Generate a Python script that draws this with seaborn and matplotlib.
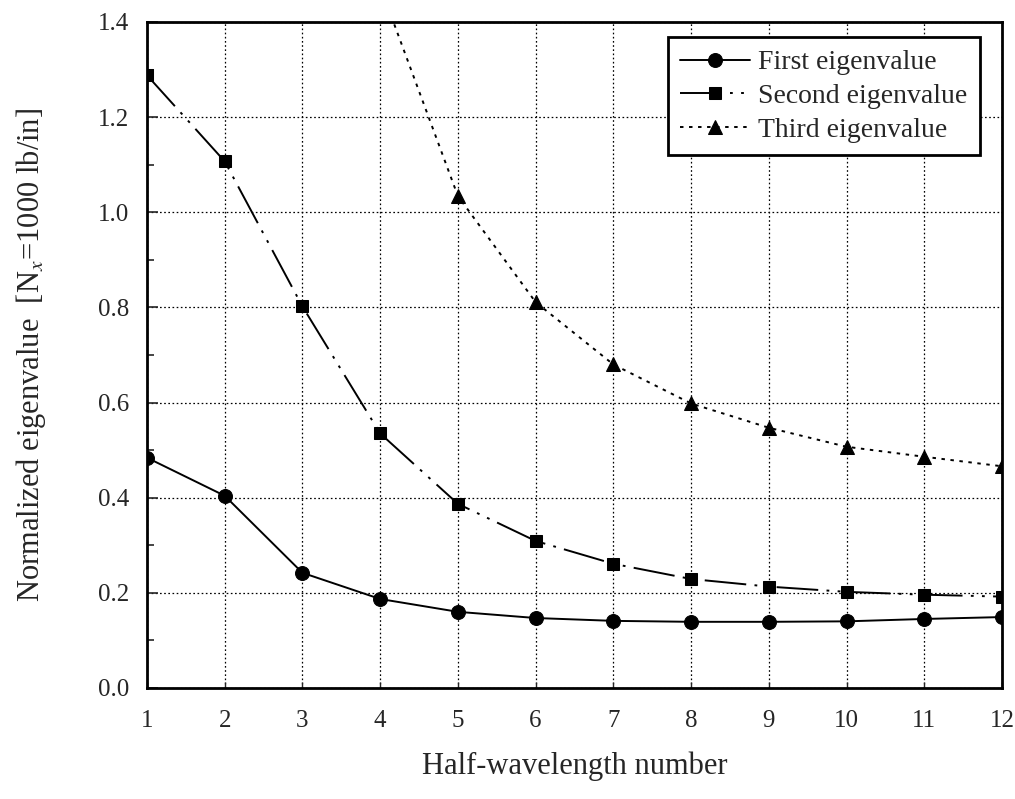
import numpy as np
import pandas as pd
import matplotlib
matplotlib.use("Agg")
import matplotlib.pyplot as plt
from matplotlib.ticker import MultipleLocator
import seaborn as sns

# Half-wavelength numbers and normalized eigenvalues
half_wavelength = [1, 2, 3, 4, 5, 6, 7, 8, 9, 10, 11, 12]
first_eig = [0.484, 0.404, 0.242, 0.187, 0.160, 0.147, 0.141, 0.139, 0.139, 0.140, 0.145, 0.149]
second_eig = [1.288, 1.107, 0.802, 0.535, 0.387, 0.309, 0.261, 0.229, 0.213, 0.202, 0.196, 0.192]
third_eig = [np.nan, np.nan, np.nan, 1.475, 1.034, 0.811, 0.680, 0.598, 0.547, 0.507, 0.486, 0.466]

series_names = ["First eigenvalue", "Second eigenvalue", "Third eigenvalue"]
y_ticks = [0.0, 0.2, 0.4, 0.6, 0.8, 1.0, 1.2, 1.4]

sns.set_style("white")
plt.rcParams["font.family"] = ["Liberation Serif", "DejaVu Serif"]
plt.rcParams["mathtext.fontset"] = "stix"
plt.rcParams["lines.scale_dashes"] = False

fig = plt.figure(figsize=(10.15, 7.99), dpi=100)
ax = fig.add_axes([0.1448, 0.139, 0.8424, 0.8335])

frames = []
for name, vals in zip(series_names, [first_eig, second_eig, third_eig]):
    frames.append(pd.DataFrame({"x": half_wavelength, "y": vals, "series": name}))
df = pd.concat(frames, ignore_index=True)

styles = {
    "First eigenvalue": dict(marker="o", markersize=10, linestyle="-"),
    "Second eigenvalue": dict(marker="s", markersize=9, linestyle=(0, (30, 6, 2, 6, 2, 6))),
    "Third eigenvalue": dict(marker="^", markersize=10, linestyle=(0, (2.5, 4))),
}

for name in series_names:
    sub = df[df["series"] == name].dropna()
    st = styles[name]
    sns.lineplot(data=sub, x="x", y="y", ax=ax, color="black", linewidth=1.4,
                 marker=st["marker"], markersize=st["markersize"],
                 markeredgecolor="black", markerfacecolor="black",
                 linestyle=st["linestyle"], label=name, clip_on=True)

ax.set_xlim(1, 12)
ax.set_ylim(0, 1.4)
ax.set_xticks(half_wavelength)
ax.set_yticks(y_ticks)
ax.set_yticklabels([f"{v:.1f}" for v in y_ticks])
ax.yaxis.set_minor_locator(MultipleLocator(0.1))

ax.grid(True, which="major", color="black", linestyle=(0, (1.2, 1.8)), linewidth=0.9)
ax.set_axisbelow(True)

for sp in ax.spines.values():
    sp.set_visible(True)
    sp.set_color("black")
    sp.set_linewidth(2.0)

ax.tick_params(axis="y", which="major", direction="in", length=8, width=1.2,
               labelsize=18, pad=13, left=True, right=False)
ax.tick_params(axis="y", which="minor", direction="in", length=5, width=1.2,
               left=True, right=False)
ax.tick_params(axis="x", which="major", direction="in", length=4, width=1.0,
               labelsize=18, pad=16, bottom=True)

ax.set_xlabel("Half-wavelength number", fontsize=22, labelpad=14)
ax.set_ylabel(r"Normalized eigenvalue  [N$_x$=1000 lb/in]", fontsize=22, labelpad=36)

leg = ax.legend(loc="upper right", bbox_to_anchor=(0.974, 0.977), borderaxespad=0,
                fontsize=20, frameon=True, fancybox=False, edgecolor="black",
                framealpha=1, handlelength=2.5, handletextpad=0.3, borderpad=0.45,
                labelspacing=0.3)
leg.get_frame().set_linewidth(2.0)

fig.savefig("out.png", dpi=100, facecolor="white")
